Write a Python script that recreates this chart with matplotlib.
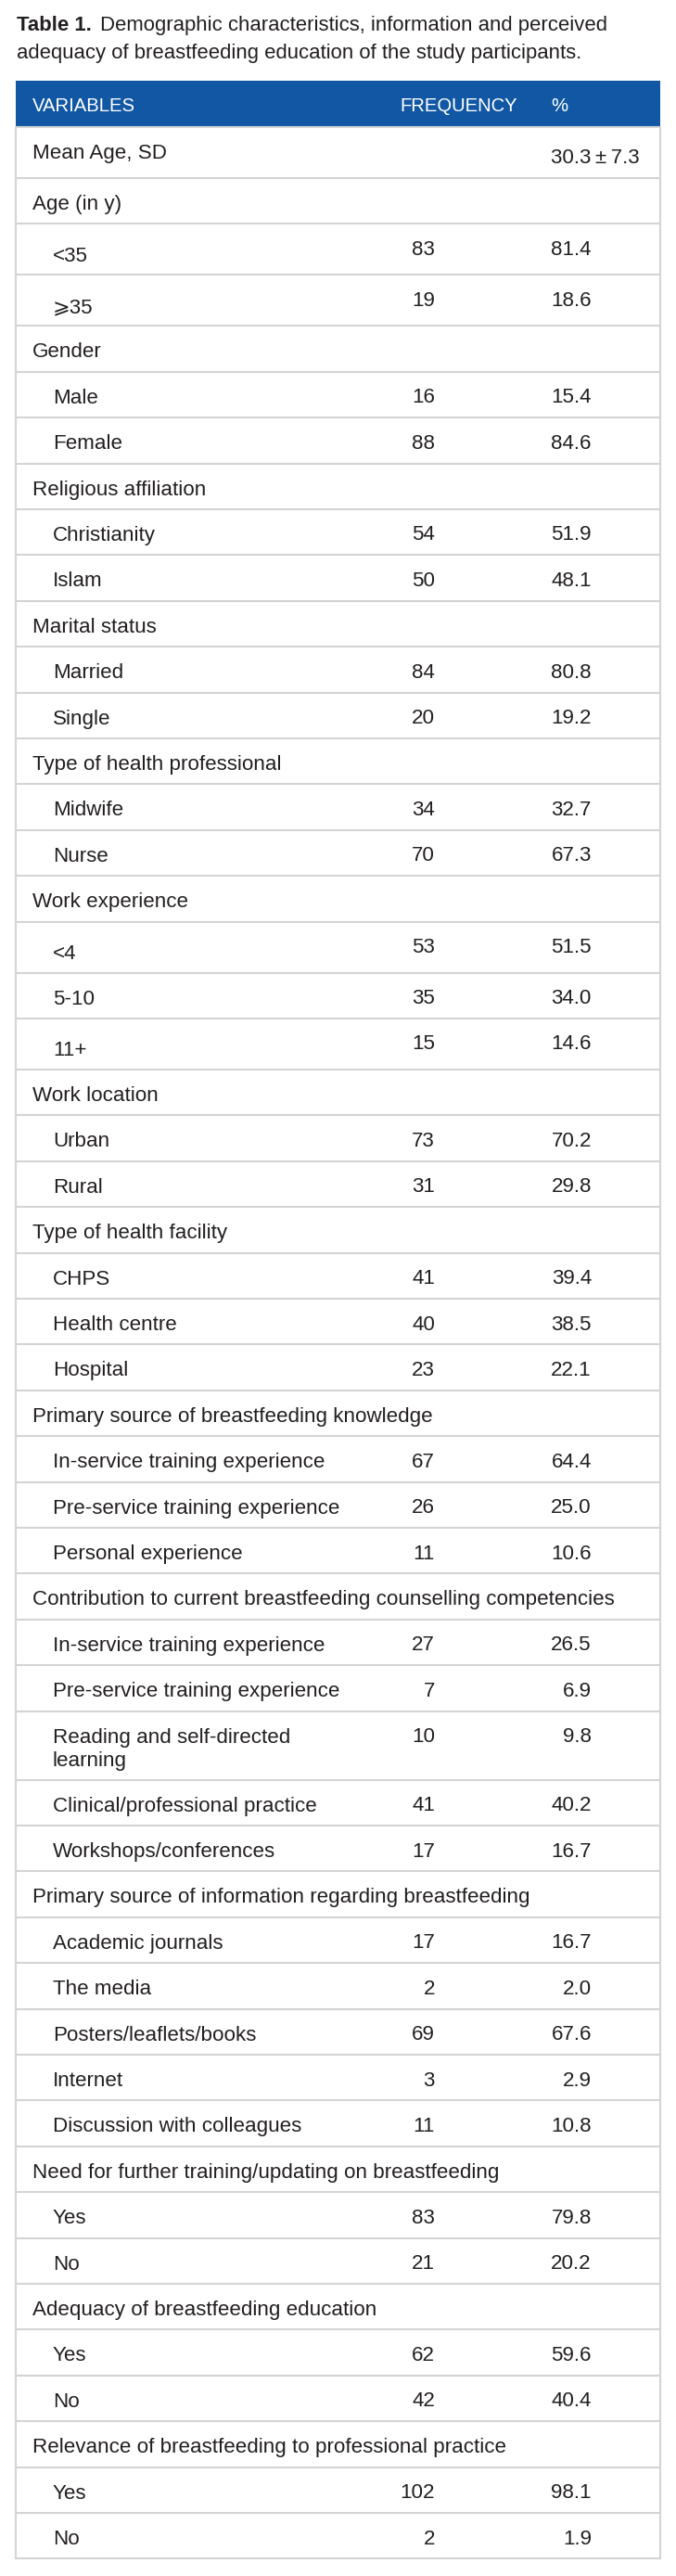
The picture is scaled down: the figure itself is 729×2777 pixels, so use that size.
import matplotlib
matplotlib.use("Agg")
import matplotlib.pyplot as plt
from matplotlib.patches import Rectangle

plt.rcParams['font.family'] = ['Liberation Sans', 'DejaVu Sans']

# ---- data ----
title_bold = "Table 1."
title_text = ["Demographic characteristics, information and perceived",
              "adequacy of breastfeeding education of the study participants."]
col_headers = ["VARIABLES", "FREQUENCY", "%"]

mean_label = "Mean Age, SD"
mean_age = 30.3
sd_age = 7.3

sections = ["Age (in y)", "Gender", "Religious affiliation", "Marital status",
            "Type of health professional", "Work experience", "Work location",
            "Type of health facility", "Primary source of breastfeeding knowledge",
            "Contribution to current breastfeeding counselling competencies",
            "Primary source of information regarding breastfeeding",
            "Need for further training/updating on breastfeeding",
            "Adequacy of breastfeeding education",
            "Relevance of breastfeeding to professional practice"]
items = [["<35", "\u2a7e35"],
         ["Male", "Female"],
         ["Christianity", "Islam"],
         ["Married", "Single"],
         ["Midwife", "Nurse"],
         ["<4", "5-10", "11+"],
         ["Urban", "Rural"],
         ["CHPS", "Health centre", "Hospital"],
         ["In-service training experience", "Pre-service training experience",
          "Personal experience"],
         ["In-service training experience", "Pre-service training experience",
          "Reading and self-directed\nlearning", "Clinical/professional practice",
          "Workshops/conferences"],
         ["Academic journals", "The media", "Posters/leaflets/books", "Internet",
          "Discussion with colleagues"],
         ["Yes", "No"],
         ["Yes", "No"],
         ["Yes", "No"]]
freqs = [[83, 19], [16, 88], [54, 50], [84, 20], [34, 70], [53, 35, 15],
         [73, 31], [41, 40, 23], [67, 26, 11], [27, 7, 10, 41, 17],
         [17, 2, 69, 3, 11], [83, 21], [62, 42], [102, 2]]
pcts = [[81.4, 18.6], [15.4, 84.6], [51.9, 48.1], [80.8, 19.2], [32.7, 67.3],
        [51.5, 34.0, 14.6], [70.2, 29.8], [39.4, 38.5, 22.1], [64.4, 25.0, 10.6],
        [26.5, 6.9, 9.8, 40.2, 16.7], [16.7, 2.0, 67.6, 2.9, 10.8],
        [79.8, 20.2], [59.6, 40.4], [98.1, 1.9]]

# ---- layout / style ----
W, H = 729, 2777
left, right = 17, 712
x_group, x_item = 35, 57
x_freq, x_pct = 469, 638
blue = '#1157a4'
grid = '#d4d4d4'
ink = '#231f20'
fs_body = 16.1
fs_head = 14.6
fs_title = 15.9
row_h = 49.4
tall_h = 55
symbols = ('<', '\u2a7e', '+', '\u00b1')

fig = plt.figure(figsize=(W / 100, H / 100), dpi=100)
ax = fig.add_axes([0, 0, 1, 1])
ax.set_xlim(0, W)
ax.set_ylim(H, 0)
ax.axis('off')

# title
ax.text(18, 33, title_bold, fontsize=fs_title, fontweight='bold', color=ink,
        va='baseline', ha='left')
ax.text(108, 33, title_text[0], fontsize=fs_title, color=ink, va='baseline', ha='left')
ax.text(18, 63, title_text[1], fontsize=fs_title, color=ink, va='baseline', ha='left')

# header
top = 87
ax.add_patch(Rectangle((left, top), right - left, 50, color=blue, lw=0))
ax.text(x_group, top + 33, col_headers[0], fontsize=fs_head, color='white', va='baseline')
ax.text(431, top + 33, col_headers[1], fontsize=fs_head, color='white', va='baseline')
ax.text(594, top + 33, col_headers[2], fontsize=fs_head, color='white', va='baseline')
y = top + 50
lines = [y]

# mean age row
ax.text(x_group, y + 33.5, mean_label, fontsize=fs_body, color=ink, va='baseline')
ax.text(594, y + tall_h - 15.5, f"{mean_age}\u2009\u00b1\u2009{sd_age}", fontsize=fs_body,
        color=ink, va='baseline')
y += tall_h
lines.append(y)

for sec, labs, fr, pc in zip(sections, items, freqs, pcts):
    ax.text(x_group, y + 34, sec, fontsize=fs_body, color=ink, va='baseline')
    y += row_h
    lines.append(y)
    for lab, f, p in zip(labs, fr, pc):
        if '\n' in lab:
            h = 74
        elif lab.startswith(symbols) or lab.endswith(symbols):
            h = tall_h
        else:
            h = row_h
        if h == tall_h:
            # rows with symbols sit a little lower
            ax.text(x_item, y + h - 14.5, lab, fontsize=fs_body, color=ink, va='baseline')
        else:
            for k, part in enumerate(lab.split('\n')):
                ax.text(x_item, y + 34 + 25 * k, part, fontsize=fs_body, color=ink, va='baseline')
        ax.text(x_freq, y + 33.5, str(f), fontsize=fs_body, color=ink, va='baseline', ha='right')
        ax.text(x_pct, y + 33.5, f"{p:.1f}", fontsize=fs_body, color=ink, va='baseline', ha='right')
        y += h
        lines.append(y)

for ly in lines:
    ax.plot([left, right], [ly, ly], color=grid, lw=1.5, solid_capstyle='butt')
ax.plot([left, left], [top + 50, y], color=grid, lw=1.5)
ax.plot([right, right], [top + 50, y], color=grid, lw=1.5)

fig.savefig('out.png', dpi=100, facecolor='white')
